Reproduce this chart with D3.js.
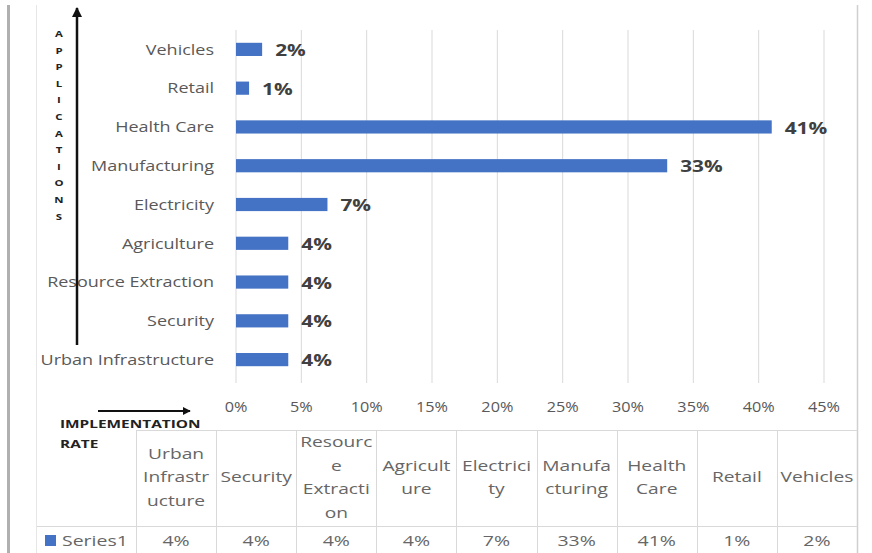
<!DOCTYPE html>
<html><head><meta charset="utf-8">
<script src="https://cdn.jsdelivr.net/npm/d3@7"></script>
<style>
html,body{margin:0;padding:0;background:#fff;}
svg{display:block;}
text{font-family:"Open Sans",sans-serif;}
</style></head>
<body>
<svg id="chart" width="872" height="553"></svg>
<script>
// ---- data ----
const categories = ["Urban Infrastructure","Security","Resource Extraction","Agriculture","Electricity","Manufacturing","Health Care","Retail","Vehicles"];
const values = [4,4,4,4,7,33,41,1,2];
const tickValues = [0,5,10,15,20,25,30,35,40,45];
const tableHeaders = [
  ["Urban","Infrastr","ucture"],
  ["Security"],
  ["Resourc","e","Extracti","on"],
  ["Agricult","ure"],
  ["Electrici","ty"],
  ["Manufa","cturing"],
  ["Health","Care"],
  ["Retail"],
  ["Vehicles"]
];
const seriesName = "Series1";
const yAxisTitle = "APPLICATIONS";
const xAxisTitle = ["IMPLEMENTATION","RATE"];

// ---- layout ----
const svg = d3.select("#chart");
const blue = "#4472c4";
const grid = "#d9d9d9";
const textGray = "#595959";

// horizontally stretched text helper
function stext(parent, x, y, str, o){
  const g = parent.append("g").attr("transform",`translate(${x},${y}) scale(${o.sx||1},1)`);
  const t = g.append("text").attr("x",0).attr("y",0)
    .attr("text-anchor",o.anchor||"start").attr("dy",o.dy||null)
    .attr("font-size",o.size||14).attr("fill",o.fill||textGray)
    .attr("font-weight",o.weight||null).text(str);
  return t;
}

const x = d3.scaleLinear().domain([0,45]).range([236,824]);
const y = d3.scaleBand().domain(categories.slice().reverse()).range([30,379]).paddingInner(0.66).paddingOuter(0.33);

// outer borders
svg.append("line").attr("x1",8.5).attr("x2",8.5).attr("y1",5).attr("y2",553).attr("stroke","#b0b0b0").attr("stroke-width",3);
svg.append("line").attr("x1",36.5).attr("x2",36.5).attr("y1",5).attr("y2",553).attr("stroke","#e6e6e6").attr("stroke-width",1);
svg.append("line").attr("x1",857.5).attr("x2",857.5).attr("y1",5).attr("y2",553).attr("stroke","#d0d0d0").attr("stroke-width",1.5);

// gridlines
svg.append("g").selectAll("line").data(tickValues).join("line")
  .attr("x1",d=>x(d)).attr("x2",d=>x(d)).attr("y1",30).attr("y2",383)
  .attr("stroke",grid).attr("stroke-width",1);

// x axis tick labels
const tg = svg.append("g");
tickValues.forEach(d=>stext(tg, x(d), 412, d+"%", {anchor:"middle", size:14.5, sx:1.12}));

// bars
svg.append("g").selectAll("rect").data(categories).join("rect")
  .attr("x",x(0)).attr("y",d=>y(d)).attr("height",y.bandwidth())
  .attr("width",(d,i)=>x(values[i])-x(0)).attr("fill",blue);

// data labels
const lg = svg.append("g");
categories.forEach((c,i)=>stext(lg, x(values[i])+13, y(c)+y.bandwidth()/2+1, values[i]+"%",
  {size:16, weight:"bold", fill:"#404040", sx:1.3, dy:"0.35em"}));

// category labels
const cg = svg.append("g");
categories.forEach(c=>stext(cg, 214, y(c)+y.bandwidth()/2, c, {anchor:"end", size:15, sx:1.2, dy:"0.35em"}));

// y axis arrow
svg.append("defs").append("marker").attr("id","arr").attr("viewBox","0 0 10 10")
  .attr("refX",9).attr("refY",5).attr("markerWidth",4).attr("markerHeight",4).attr("orient","auto")
  .append("path").attr("d","M0,0L10,5L0,10z").attr("fill","#111");
svg.append("line").attr("x1",77).attr("x2",77).attr("y1",345).attr("y2",8)
  .attr("stroke","#111").attr("stroke-width",2.5).attr("marker-end","url(#arr)");
const ag = svg.append("g");
yAxisTitle.split("").forEach((ch,i)=>stext(ag, 59, 37+i*16.6, ch, {anchor:"middle", size:9.5, weight:"bold", fill:"#222", sx:1.2}));

// x axis arrow
svg.append("line").attr("x1",98).attr("x2",190).attr("y1",411).attr("y2",411)
  .attr("stroke","#111").attr("stroke-width",2).attr("marker-end","url(#arr)");

// data table
const colX = d3.scaleBand().domain(categories).range([136,857]);
const tTop = 430.5, tMid = 526.5, tBot = 553;
svg.append("line").attr("x1",136).attr("x2",857).attr("y1",tTop).attr("y2",tTop).attr("stroke",grid);
svg.append("line").attr("x1",37).attr("x2",857).attr("y1",tMid).attr("y2",tMid).attr("stroke",grid);
svg.append("g").selectAll("line").data(categories).join("line")
  .attr("x1",d=>Math.round(colX(d))+0.5).attr("x2",d=>Math.round(colX(d))+0.5)
  .attr("y1",tTop).attr("y2",tBot).attr("stroke",grid);

// x title (drawn over table line)
const xt = svg.append("g");
stext(xt, 60, 428, xAxisTitle[0], {size:11, weight:"bold", fill:"#222", sx:1.4})
  .attr("stroke","#fff").attr("stroke-width",2).attr("paint-order","stroke");
stext(xt, 60, 448, xAxisTitle[1], {size:11, weight:"bold", fill:"#222", sx:1.4});

// header cells
const lh = 23.5, hc = 477;
const hg = svg.append("g");
categories.forEach((c,i)=>{
  const lines = tableHeaders[i];
  lines.forEach((l,j)=>stext(hg, colX(c)+colX.bandwidth()/2, hc+(j-(lines.length-1)/2)*lh, l,
    {anchor:"middle", size:15, sx:1.28, dy:"0.35em", fill:"#666"}));
});

// value row
const vg = svg.append("g");
categories.forEach((c,i)=>stext(vg, colX(c)+colX.bandwidth()/2, 541, values[i]+"%",
  {anchor:"middle", size:15, sx:1.3, dy:"0.35em", fill:"#666"}));
svg.append("rect").attr("x",45).attr("y",535).attr("width",11).attr("height",11).attr("fill",blue);
stext(svg, 62, 541, seriesName, {size:15, sx:1.3, dy:"0.35em", fill:"#666"});
</script>
</body></html>
